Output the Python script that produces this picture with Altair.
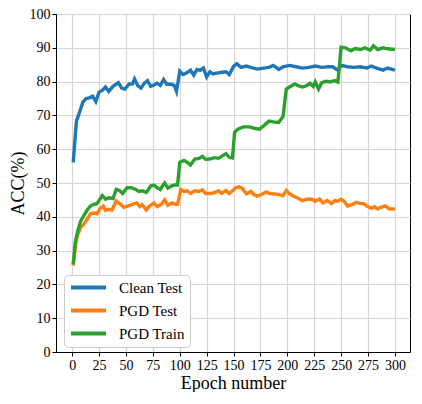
import altair as alt
import pandas as pd

# ---- data ----
clean_epochs = [1, 4, 7, 10, 13, 16, 19, 22, 25, 28, 31, 34, 38, 43, 46, 49, 53, 56, 58, 61,
                64, 67, 70, 73, 76, 79, 82, 85, 88, 92, 95, 97, 100, 103, 106, 110, 113, 116,
                119, 122, 125, 128, 131, 134, 138, 143, 146, 150, 153, 157, 162, 166, 172, 178,
                183, 187, 192, 196, 202, 208, 214, 220, 226, 232, 238, 242, 247, 250, 256, 262,
                268, 274, 278, 283, 289, 293, 300]
clean_acc = [56.1, 68.3, 71.1, 73.9, 75.0, 75.2, 75.7, 74.1, 76.9, 77.4, 78.4, 77.1, 78.6, 79.7,
             78.1, 77.8, 79.3, 79.3, 80.8, 78.8, 78.1, 79.5, 80.3, 78.6, 79.0, 79.5, 78.9, 80.6,
             79.2, 79.2, 78.8, 77.1, 83.1, 82.1, 82.5, 83.4, 81.9, 83.6, 83.3, 84.0, 81.4, 82.9,
             82.3, 82.5, 82.7, 82.9, 82.1, 84.5, 85.3, 84.2, 84.6, 84.2, 83.7, 84.0, 84.2, 84.8,
             83.6, 84.4, 84.8, 84.4, 84.0, 84.2, 84.6, 84.2, 84.4, 84.4, 83.4, 84.8, 84.4, 84.2,
             84.4, 84.0, 84.6, 84.0, 83.4, 84.0, 83.4]

pgd_test_epochs = [1, 3, 5, 8, 11, 14, 17, 20, 23, 26, 29, 31, 34, 37, 41, 45, 48, 52, 56, 60,
                   63, 65, 69, 72, 76, 79, 83, 86, 89, 93, 96, 98, 101, 104, 107, 110, 114, 118,
                   121, 124, 128, 132, 136, 139, 143, 146, 149, 152, 155, 158, 162, 166, 169, 172,
                   176, 180, 184, 187, 192, 196, 199, 202, 206, 210, 214, 218, 223, 226, 230, 233,
                   237, 241, 244, 247, 250, 253, 256, 260, 264, 268, 271, 274, 278, 281, 284, 287,
                   291, 295, 300]
pgd_test_acc = [25.6, 31.3, 34.6, 36.9, 37.8, 39.4, 40.9, 41.1, 40.9, 42.5, 43.2, 41.9, 42.2, 42.0,
                44.7, 43.7, 42.8, 43.2, 43.7, 44.1, 43.0, 43.6, 42.0, 43.2, 44.1, 43.0, 43.7, 45.0,
                43.4, 44.1, 43.7, 43.7, 48.1, 47.5, 47.7, 46.9, 47.7, 47.5, 48.0, 46.9, 46.9, 47.1,
                47.7, 46.9, 47.8, 46.9, 47.7, 48.6, 48.9, 48.4, 46.8, 47.5, 46.6, 46.1, 46.6, 47.3,
                46.9, 46.8, 46.6, 46.2, 47.8, 46.8, 46.1, 45.5, 44.8, 45.2, 45.2, 44.6, 45.3, 44.1,
                44.8, 43.9, 44.8, 44.6, 45.2, 44.5, 43.2, 43.6, 44.3, 43.9, 43.9, 43.2, 42.5, 43.0,
                42.3, 42.8, 43.2, 42.3, 42.3]

pgd_train_epochs = [1, 3, 5, 8, 11, 14, 17, 20, 23, 26, 28, 31, 34, 38, 41, 44, 47, 51, 55, 59,
                    62, 65, 69, 73, 76, 79, 82, 84, 86, 89, 92, 95, 98, 100, 104, 107, 110, 114,
                    118, 121, 124, 128, 132, 136, 140, 143, 146, 149, 151, 154, 159, 165, 169, 174,
                    178, 183, 187, 192, 196, 199, 202, 207, 210, 214, 218, 221, 224, 226, 229, 232,
                    236, 240, 244, 247, 250, 254, 259, 263, 268, 272, 277, 280, 284, 289, 293, 300]
pgd_train_acc = [25.9, 32.7, 35.5, 38.8, 40.4, 42.0, 43.2, 43.7, 43.9, 45.3, 46.3, 45.2, 45.6, 45.4,
                 48.1, 47.8, 46.9, 48.6, 48.6, 48.1, 47.5, 47.7, 47.2, 49.1, 49.4, 48.6, 48.1, 49.1,
                 50.0, 48.5, 49.1, 49.4, 49.4, 56.1, 56.7, 56.1, 55.3, 57.1, 57.3, 57.9, 57.0, 57.1,
                 57.5, 57.3, 58.1, 58.7, 57.6, 57.4, 65.0, 65.9, 66.6, 66.6, 66.2, 65.9, 66.9, 68.3,
                 68.1, 67.9, 69.7, 77.8, 78.4, 79.3, 78.8, 78.4, 78.8, 79.5, 78.6, 79.9, 77.8, 79.7,
                 80.1, 79.9, 80.3, 79.9, 90.2, 90.0, 89.1, 89.8, 89.5, 90.0, 89.3, 90.6, 89.5, 90.0,
                 89.7, 89.5]

series_names = ["Clean Test", "PGD Test", "PGD Train"]
series_colors = ["#1f77b4", "#ff7f0e", "#2ca02c"]
x_ticks = list(range(0, 301, 25))
y_ticks = list(range(0, 101, 10))

rows = []
for name, eps, accs in zip(series_names,
                           [clean_epochs, pgd_test_epochs, pgd_train_epochs],
                           [clean_acc, pgd_test_acc, pgd_train_acc]):
    for i, (e, a) in enumerate(zip(eps, accs)):
        rows.append({"series": name, "epoch": e, "acc": a, "idx": i})
df = pd.DataFrame(rows)

FONT = "Liberation Serif"
W, H = 354, 338

chart = alt.Chart(df).mark_line(strokeWidth=3.4, clip=True).encode(
    x=alt.X("epoch:Q",
            scale=alt.Scale(domain=[-15, 314], nice=False, zero=False),
            axis=alt.Axis(values=x_ticks, title="Epoch number", grid=True,
                          titleX=W / 2, titleY=31, titleBaseline="middle",
                          labelPadding=2)),
    y=alt.Y("acc:Q",
            scale=alt.Scale(domain=[0, 100], nice=False),
            axis=alt.Axis(values=y_ticks, title="ACC(%)", grid=True,
                          titleX=-38, titleY=H / 2, titleAngle=270,
                          titleBaseline="middle", labelPadding=2)),
    color=alt.Color("series:N",
                    scale=alt.Scale(domain=series_names, range=series_colors),
                    legend=alt.Legend(title=None, orient="none", legendX=8, legendY=H - 8 - 69,
                                      symbolType="stroke", symbolSize=1225,
                                      symbolStrokeWidth=4, labelFontSize=15,
                                      labelFont=FONT, labelColor="#000",
                                      labelOffset=11, rowPadding=7, padding=5,
                                      clipHeight=15,
                                      strokeColor="#cccccc", fillColor="white",
                                      cornerRadius=4)),
    order=alt.Order("idx:Q"),
    detail="series:N",
).properties(
    width=W,
    height=H,
    autosize=alt.AutoSizeParams(type="none"),
    padding={"left": 48, "top": 6, "right": 2, "bottom": 40},
).configure_view(
    stroke="black", strokeWidth=1
).configure_axis(
    labelFont=FONT, titleFont=FONT, labelFontSize=14, titleFontSize=18,
    titleFontWeight="normal", labelColor="#000", titleColor="#000",
    domainColor="black", tickColor="black", tickSize=4, tickWidth=1,
    gridColor="#d5d5d5", gridWidth=1.2
).configure_legend(
    labelFont=FONT
)

chart.save("out.html", embed_options={"renderer": "svg", "actions": False})
